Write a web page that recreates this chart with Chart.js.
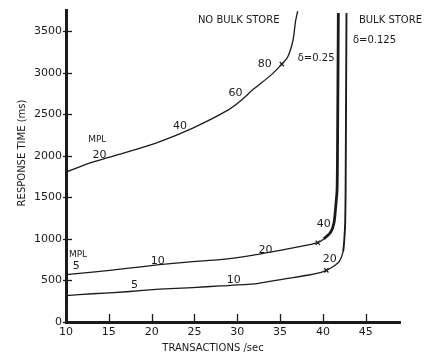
<!DOCTYPE html>
<html>
<head>
<meta charset="utf-8">
<script src="https://cdn.jsdelivr.net/npm/chart.js@4/dist/chart.umd.min.js"></script>
<style>
  body { margin: 0; background: #fff; }
</style>
</head>
<body>
<canvas id="rt" width="431" height="356"></canvas>
<script>
// transactions/sec vs response time (ms)
const noBulkX = [10, 13.1, 17.1, 20.9, 24.8, 28.8, 30.4, 31.9, 33.9, 35.2, 35.9, 36.5, 36.8, 37.05];
const noBulkY = [1805, 1925, 2045, 2170, 2335, 2545, 2665, 2805, 2970, 3105, 3195, 3390, 3620, 3745];

const bulk25X = [10, 13.1, 17.1, 20.9, 24.8, 28, 31.9, 35.9, 38.6, 39.4, 40.1, 40.9, 41.3, 41.5, 41.65, 41.7, 41.8];
const bulk25Y = [570, 600, 645, 690, 728, 750, 805, 880, 935, 955, 1000, 1080, 1197, 1397, 1585, 2000, 3720];

const bulk125X = [10, 13.1, 17.1, 20.9, 24.8, 28, 31.9, 35.9, 38.2, 39.8, 40.4, 41.2, 41.9, 42.35, 42.5, 42.6, 42.65, 42.75];
const bulk125Y = [317, 340, 364, 395, 415, 434, 458, 525, 563, 599, 622, 669, 728, 845, 998, 1197, 1585, 3720];

const xTicks = [10, 15, 20, 25, 30, 35, 40, 45];
const yTicks = [0, 500, 1000, 1500, 2000, 2500, 3000, 3500];

// MPL labels along the curves: [text, x, y]
const curveLabels = [
  ["MPL", 13.65, 2195], ["20", 13.9, 2008], ["40", 23.3, 2360], ["60", 29.8, 2760], ["80", 33.2, 3100],
  ["MPL", 11.4, 810], ["5", 11.2, 670], ["10", 20.7, 728], ["20", 33.3, 869], ["40", 40.1, 1174],
  ["5", 18, 446], ["10", 29.6, 505], ["20", 40.8, 751]
];
const noteLabels = [
  ["NO BULK STORE", 25.4, 3628], ["BULK STORE", 44.2, 3628],
  ["δ=0.125", 43.5, 3393], ["δ=0.25", 37.06, 3180]
];

function pts(xs, ys) {
  return xs.map((x, i) => ({ x, y: ys[i] }));
}

const ink = "#1a1a1a";

const annotate = {
  id: "annotate",
  afterDraw(chart) {
    const { ctx, chartArea, scales } = chart;
    const xs = scales.x, ys = scales.y;
    ctx.save();
    ctx.strokeStyle = ink;
    ctx.lineWidth = 1.3;
    // inward tick marks
    yTicks.forEach(v => {
      const py = Math.round(ys.getPixelForValue(v)) + 0.5;
      ctx.beginPath();
      ctx.moveTo(chartArea.left - 3, py);
      ctx.lineTo(chartArea.left + 6, py);
      ctx.stroke();
    });
    xTicks.forEach(v => {
      const px = Math.round(xs.getPixelForValue(v)) + 0.5;
      ctx.beginPath();
      ctx.moveTo(px, chartArea.bottom);
      ctx.lineTo(px, chartArea.bottom - 8);
      ctx.stroke();
    });

    ctx.fillStyle = ink;
    ctx.textBaseline = "middle";
    ctx.textAlign = "center";
    curveLabels.forEach(([t, x, y]) => {
      ctx.font = (t === "MPL" ? "9px" : "11px") + " 'DejaVu Sans'";
      ctx.fillText(t, xs.getPixelForValue(x), ys.getPixelForValue(y));
    });
    ctx.textAlign = "left";
    noteLabels.forEach(([t, x, y]) => {
      ctx.font = "10px 'DejaVu Sans'";
      ctx.fillText(t, xs.getPixelForValue(x), ys.getPixelForValue(y));
    });

    // axis titles
    ctx.font = "10px 'DejaVu Sans'";
    ctx.textAlign = "center";
    ctx.fillText("TRANSACTIONS /sec", 213, 348);
    ctx.translate(22, 153);
    ctx.rotate(-Math.PI / 2);
    ctx.fillText("RESPONSE TIME (ms)", 0, 0);
    ctx.restore();
  }
};

const markAt = idx => c => (c.dataIndex === idx ? 3 : 0);

new Chart(document.getElementById("rt"), {
  type: "scatter",
  data: {
    datasets: [
      {
        label: "No bulk store",
        data: pts(noBulkX, noBulkY),
        showLine: true,
        tension: 0.3,
        borderColor: ink,
        borderWidth: 1.3,
        pointStyle: "crossRot",
        pointRadius: markAt(9),
        pointBorderColor: ink,
        pointBorderWidth: 1.2
      },
      {
        label: "Bulk store δ=0.25",
        data: pts(bulk25X, bulk25Y),
        showLine: true,
        tension: 0.2,
        borderColor: ink,
        borderWidth: 1.3,
        segment: { borderWidth: c => (c.p0DataIndex >= 10 ? 2.8 : 1.3) },
        pointStyle: "crossRot",
        pointRadius: markAt(9),
        pointBorderColor: ink,
        pointBorderWidth: 1.2
      },
      {
        label: "Bulk store δ=0.125",
        data: pts(bulk125X, bulk125Y),
        showLine: true,
        tension: 0.2,
        borderColor: ink,
        borderWidth: 1.3,
        segment: { borderWidth: c => (c.p0DataIndex >= 13 ? 1.9 : 1.3) },
        pointStyle: "crossRot",
        pointRadius: markAt(10),
        pointBorderColor: ink,
        pointBorderWidth: 1.2
      }
    ]
  },
  options: {
    responsive: false,
    animation: false,
    layout: { padding: { top: 3, right: 31, bottom: 0, left: 0 } },
    plugins: { legend: { display: false }, tooltip: { enabled: false } },
    scales: {
      x: {
        type: "linear",
        min: 10,
        max: 49,
        grid: { display: false, drawTicks: false },
        border: { display: true, color: ink, width: 3 },
        afterBuildTicks: s => { s.ticks = xTicks.map(v => ({ value: v })); },
        ticks: {
          padding: 4,
          color: ink,
          font: { family: "DejaVu Sans", size: 11 },
          callback: v => String(v)
        },
        afterFit: s => { s.height = 34; }
      },
      y: {
        type: "linear",
        min: 0,
        max: 3750,
        grid: { display: false, drawTicks: false },
        border: { display: true, color: ink, width: 3 },
        afterBuildTicks: s => { s.ticks = yTicks.map(v => ({ value: v })); },
        ticks: {
          padding: 4,
          color: ink,
          font: { family: "DejaVu Sans", size: 11 },
          callback: v => String(v)
        },
        afterFit: s => { s.width = 66; }
      }
    }
  },
  plugins: [annotate]
});
</script>
</body>
</html>
